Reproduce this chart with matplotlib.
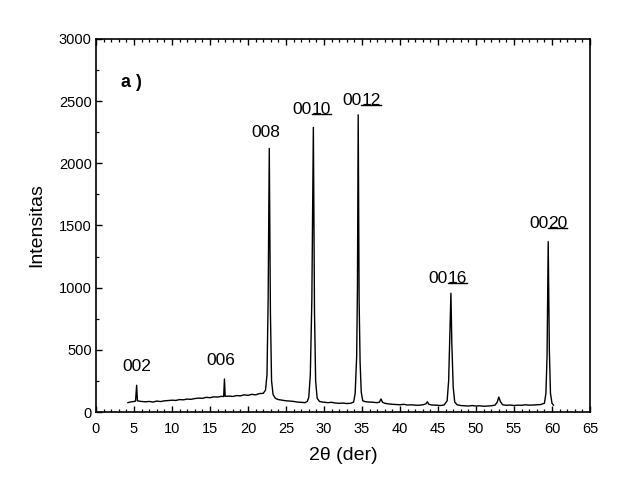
import matplotlib
matplotlib.use("Agg")
import matplotlib.pyplot as plt
from matplotlib.ticker import MultipleLocator
from matplotlib.lines import Line2D

plt.rcParams['font.family'] = ['Liberation Sans', 'DejaVu Sans']

two_theta = [4.2, 4.5, 5.0, 5.2, 5.35, 5.45, 5.8, 6.5, 7.0, 7.5, 8.0, 8.5, 9.0, 9.5,
             10.0, 10.5, 11.0, 11.5, 12.0, 12.5, 13.0, 13.5, 14.0, 14.5, 15.0, 15.5,
             16.0, 16.5, 16.8, 16.9, 17.0, 17.5, 18.0, 18.5, 19.0, 19.5, 20.0, 20.5,
             21.0, 21.5, 22.0, 22.3, 22.5, 22.65, 22.8, 22.95, 23.1, 23.3, 23.6, 24.0,
             24.5, 25.0, 25.5, 26.0, 26.5, 27.0, 27.5, 27.8, 28.0, 28.2, 28.4, 28.6,
             28.75, 28.9, 29.1, 29.4, 29.8, 30.5, 31.0, 31.5, 32.0, 32.5, 33.0, 33.5,
             33.9, 34.1, 34.3, 34.4, 34.5, 34.62, 34.75, 34.9, 35.1, 35.5, 36.0, 36.5,
             37.0, 37.3, 37.5, 37.7, 38.0, 38.5, 39.0, 39.5, 40.0, 40.5, 41.0, 41.5,
             42.0, 42.5, 43.0, 43.4, 43.6, 43.8, 44.2, 44.8, 45.3, 45.8, 46.2, 46.4,
             46.55, 46.7, 46.82, 47.0, 47.2, 47.5, 48.0, 48.5, 49.0, 49.5, 50.0, 50.5,
             51.0, 51.5, 52.0, 52.5, 52.8, 53.0, 53.2, 53.5, 54.0, 54.5, 55.0, 55.5,
             56.0, 56.5, 57.0, 57.5, 58.0, 58.5, 59.0, 59.2, 59.35, 59.5, 59.65, 59.8,
             60.0, 60.2]
intensity = [75, 80, 85, 88, 215, 90, 86, 82, 85, 80, 88, 84, 90, 92,
             95, 93, 100, 98, 104, 102, 108, 112, 110, 118, 115, 122,
             120, 126, 124, 265, 126, 128, 125, 132, 130, 138, 134, 142,
             138, 148, 150, 175, 300, 900, 2120, 800, 250, 140, 110, 100,
             95, 90, 88, 85, 80, 78, 75, 85, 120, 300, 900, 2290,
             800, 250, 110, 85, 80, 75, 78, 72, 70, 72, 68, 70,
             80, 150, 450, 1000, 2390, 900, 400, 160, 90, 82, 80, 78,
             75, 80, 105, 78, 70, 65, 62, 60, 58, 62, 56, 58,
             55, 54, 58, 65, 82, 62, 56, 55, 52, 56, 90, 250,
             600, 955, 550, 200, 80, 58, 52, 50, 48, 52, 48, 50,
             46, 48, 50, 55, 80, 120, 85, 58, 54, 56, 52, 55,
             54, 58, 55, 56, 58, 60, 70, 150, 450, 1370, 500, 150,
             70, 55]

# peak labels: plain prefix + underlined part
label_prefix = ["002", "006", "008", "00", "00", "00", "00"]
label_under = ["", "", "", "10", "12", "16", "20"]
label_x = [5.4, 16.4, 22.4, 28.4, 34.9, 46.3, 59.5]
label_y = [362, 418, 2250, 2436, 2508, 1077, 1520]

fig = plt.figure(figsize=(6.19, 4.86), dpi=100)
ax = fig.add_axes([96/619, 74/486, 494/619, 373/486])
ax.plot(two_theta, intensity, color='black', lw=1.0)

ax.set_xlim(0, 65)
ax.set_ylim(0, 3000)
ax.xaxis.set_major_locator(MultipleLocator(5))
ax.xaxis.set_minor_locator(MultipleLocator(1))
ax.yaxis.set_major_locator(MultipleLocator(500))
ax.yaxis.set_minor_locator(MultipleLocator(250))
ax.tick_params(axis='x', which='both', direction='in', top=True, bottom=True)
ax.tick_params(axis='y', which='both', direction='in', left=True, right=False)
ax.tick_params(which='major', length=4.5, width=1.0, labelsize=10.5)
ax.tick_params(which='minor', length=2.5, width=0.9)
ax.tick_params(axis='x', which='major', pad=7)
ax.tick_params(axis='y', which='major', pad=3)
for s in ax.spines.values():
    s.set_linewidth(1.2)

ax.set_xlabel("2θ (der)", fontsize=14, labelpad=8)
ax.set_ylabel("Intensitas", fontsize=14, labelpad=10)

ax.text(4.6, 2652, "a )", fontsize=13, fontweight='bold', ha='center', va='center')

under_texts = []
for pre, und, lx, ly in zip(label_prefix, label_under, label_x, label_y):
    if und:
        ax.text(lx, ly, pre, fontsize=12.5, ha='right', va='center')
        t = ax.text(lx, ly, und, fontsize=12.5, ha='left', va='center')
        under_texts.append(t)
    else:
        ax.text(lx, ly, pre, fontsize=12.5, ha='center', va='center')

fig.canvas.draw()
renderer = fig.canvas.get_renderer()
W, H = fig.get_size_inches() * fig.dpi
for t in under_texts:
    bb = t.get_window_extent(renderer)
    yline = bb.y0 + 2.8
    fig.add_artist(Line2D([bb.x0 / W, bb.x1 / W], [yline / H, yline / H],
                          color='black', lw=1.0, transform=fig.transFigure))

fig.savefig("out.png", dpi=100)
